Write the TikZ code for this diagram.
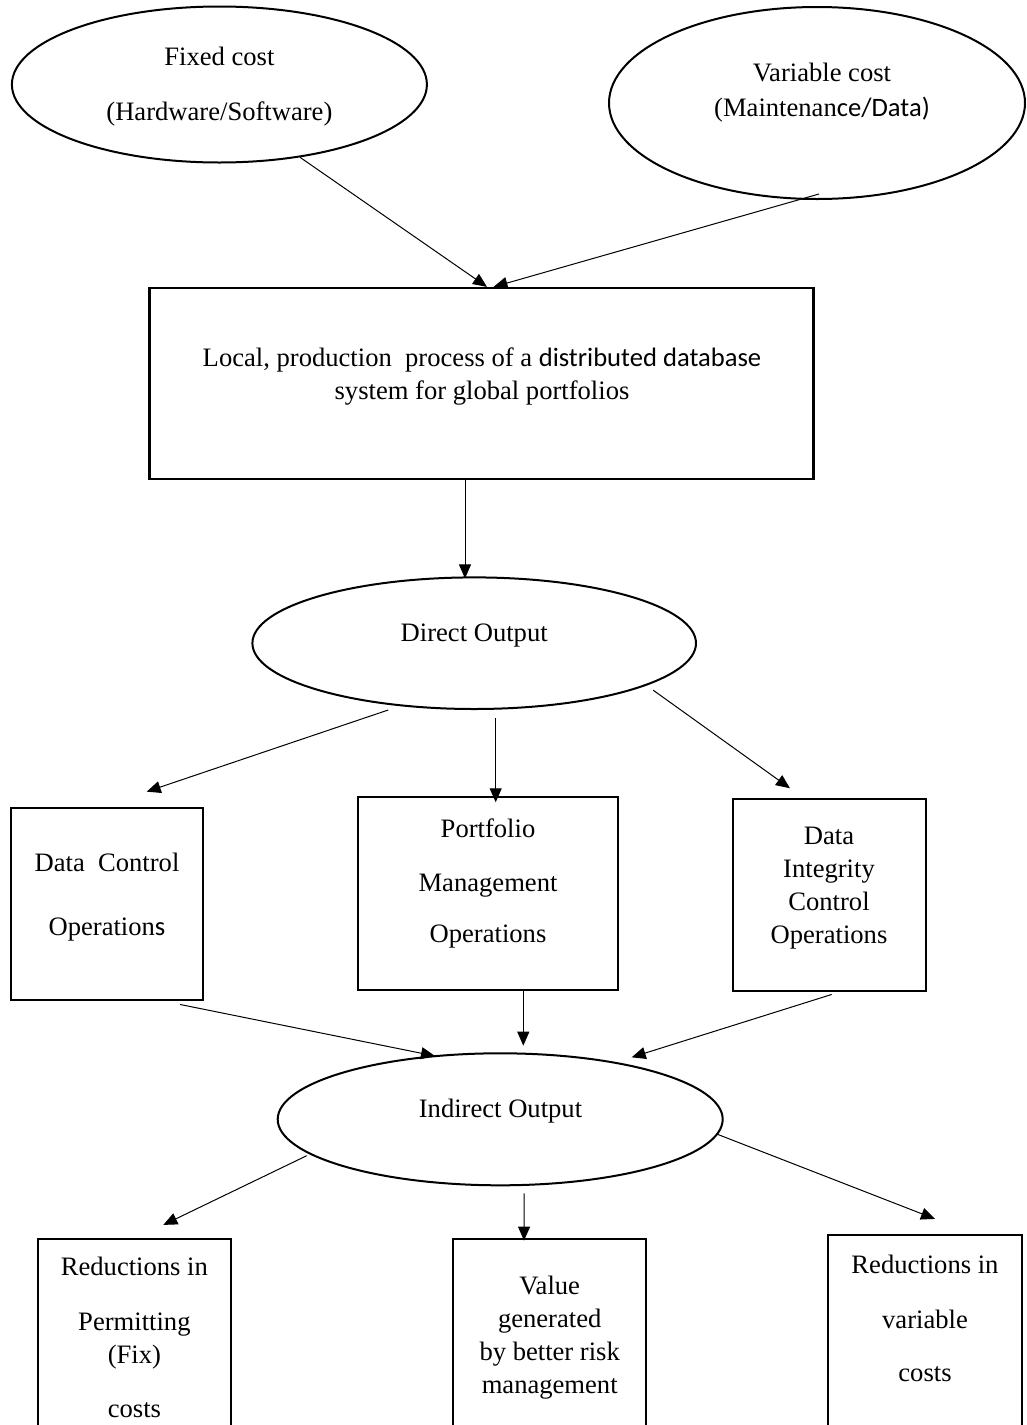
\documentclass[tikz,border=0pt]{standalone}
\usepackage{fontspec}
\setmainfont{Liberation Serif}
\newfontfamily\calfont{Carlito}
\usepackage{tikz}
\usetikzlibrary{arrows.meta,calc,shapes.geometric}
\tikzset{
  oval/.style={draw,ellipse,line width=2pt,inner sep=0pt},
  pbox/.style={draw,rectangle,line width=2.2pt,inner sep=0pt},
  lbl/.style={anchor=north,align=center,inner sep=0pt},
  arr/.style={-{Triangle[length=14pt,width=12pt]},line width=1pt},
}

\begin{document}
\begin{tikzpicture}[x=1pt,y=-1pt,font={\fontsize{26.6pt}{33pt}\selectfont}]
  \useasboundingbox (0,0) rectangle (1027,1425);
  \clip (0,0) rectangle (1027,1425);
  % cost inputs
  \node[oval,minimum width=415pt,minimum height=156pt] (fixc) at (219.4,84.5) {};
  \node[oval,minimum width=416pt,minimum height=192pt] (varc) at (817,103) {};
  \node[lbl] (fixtxt) at (219.4,41.9) {\strut Fixed cost\\[22pt]\strut (Hardware/Software)};
  \node[lbl] (vartxt) at (822,58.6) {\strut Variable cost\\[2pt]\strut (Maintenan{\calfont ce/Data)}};
  % production process
  \node[pbox,minimum width=664pt,minimum height=191pt] (proc) at (481.5,383.5) {};
  \node[lbl] (proctxt) at (482,343.6) {\strut Local, production~ process of a {\calfont distributed database}\\\strut system for global portfolios};
  % direct output
  \node[oval,minimum width=443.6pt,minimum height=131.6pt] (direct) at (474.2,643.2) {};
  \node[lbl] (directtxt) at (474.2,618.6) {\strut Direct Output};
  \node[pbox,minimum width=192.3pt,minimum height=191.7pt] (dctrl) at (107.2,904.2) {};
  \node[pbox,minimum width=260pt,minimum height=192.7pt] (portf) at (487.7,893.7) {};
  \node[pbox,minimum width=193pt,minimum height=191.7pt] (integ) at (829.2,895.2) {};
  \node[lbl] (dctrltxt) at (107,848.6) {\strut Data~ Control\\[31pt]\strut Operation{\calfont s}};
  \node[lbl] (portftxt) at (488,814.2) {\strut Portfolio\\[20.7pt]\strut Management\\[18.7pt]\strut Operations};
  \node[lbl] (integtxt) at (829,820.9) {\strut Data\\\strut Integrity\\\strut Control\\\strut Operations};
  % indirect output
  \node[oval,minimum width=445pt,minimum height=132pt] (indirect) at (500.2,1119.3) {};
  \node[lbl] (indirecttxt) at (500.5,1093.9) {\strut Indirect Output};
  \node[pbox,minimum width=192.3pt,minimum height=201pt] (redfix) at (134.5,1339.5) {};
  \node[pbox,minimum width=192.7pt,minimum height=201pt] (value) at (549.7,1339.5) {};
  \node[pbox,minimum width=193.3pt,minimum height=205pt] (redvar) at (925,1337.5) {};
  \node[lbl] (redfixtxt) at (134.4,1252.6) {\strut Reductions in\\[21.3pt]\strut Permitting\\\strut (Fix)\\[21pt]\strut costs};
  \node[lbl] (valuetxt) at (549.7,1270.9) {\strut Value\\\strut generated\\\strut by better risk\\\strut management};
  \node[lbl] (redvartxt) at (925,1250.2) {\strut Reductions in\\[22pt]\strut variable\\[20.4pt]\strut costs};
  % connectors
  \draw[arr] ($(fixc.center)+(80.6,72.8)$) -- ($(proc.north)+(5.5,0)$);
  \draw[arr] ($(varc.south)+(2,-6)$) -- ($(proc.north)+(12,0)$);
  \draw[arr] ($(proc.south)+(-16.5,0)$) -- ($(direct.north)+(-9.2,2)$);
  \draw[arr] ($(direct.south)+(-86,0)$) -- ($(dctrl.north)+(39.5,-15.6)$);
  \draw[arr] ($(direct.south)+(21.5,8)$) -- ($(portf.north)+(8,6)$);
  \draw[arr] ($(direct.center)+(179,47)$) -- ($(integ.north)+(-39.2,-10)$);
  \draw[arr] ($(dctrl.south)+(72.8,3.3)$) -- ($(indirect.center)+(-65.2,-63.3)$);
  \draw[arr] ($(portf.south)+(35.6,0)$) -- ($(indirect.north)+(23.1,-6.6)$);
  \draw[arr] ($(integ.south)+(2.5,2.3)$) -- ($(indirect.center)+(131.5,-62)$);
  \draw[arr] ($(indirect.center)+(-193.5,36.4)$) -- ($(redfix.north)+(28.8,-13)$);
  \draw[arr] ($(indirect.south)+(24,7)$) -- ($(value.north)+(-25.7,2.7)$);
  \draw[arr] ($(indirect.center)+(216.5,14.7)$) -- ($(redvar.north)+(10,-15)$);
\end{tikzpicture}
\end{document}
